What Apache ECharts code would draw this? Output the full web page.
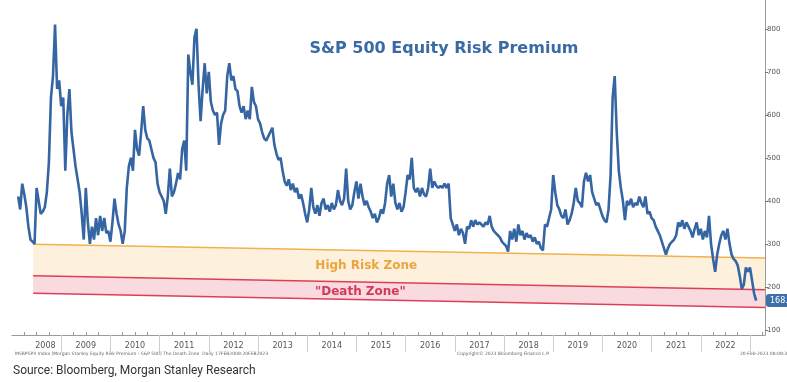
<!DOCTYPE html>
<html><head><meta charset="utf-8">
<script src="https://cdn.jsdelivr.net/npm/echarts@6/dist/echarts.min.js"></script>
<style>html,body{margin:0;padding:0;background:#fff}#c{width:787px;height:382px}</style>
</head><body><div id="c"></div>
<script>
// Semi-monthly readings of the S&P 500 Equity Risk Premium (bp), from mid-Feb 2008
const startYear = 2008.125;
const stepYears = 1 / 24;
const erpValues = [
 410,380,440,415,385,340,310,305,300,430,400,370,375,385,420,490,640,690,810,660,
 680,620,640,470,600,660,560,520,480,450,420,370,310,430,350,300,340,310,360,320,
 365,330,360,325,330,305,350,405,370,345,330,300,330,430,480,500,470,565,520,505,
 560,620,565,545,540,520,500,490,440,420,410,400,370,410,475,410,420,440,465,450,
 520,540,470,740,700,670,780,800,670,585,660,720,650,700,630,610,600,605,530,580,
 600,610,690,720,680,690,660,655,620,605,620,590,610,590,665,630,620,590,580,560,
 545,540,550,560,570,530,510,495,500,470,445,435,450,425,440,420,430,405,415,395,
 370,350,380,430,385,370,390,365,395,405,380,390,375,395,380,390,425,400,390,405,
 475,400,380,390,420,445,405,440,410,390,400,385,375,360,370,350,360,380,370,395,
 440,460,410,440,395,380,395,375,385,420,460,450,500,430,420,430,410,430,415,410,
 430,475,430,445,435,430,435,430,440,430,440,360,345,330,345,320,335,325,300,340,
 335,355,340,355,345,350,345,340,350,345,365,340,330,325,320,315,305,300,295,282,
 330,310,335,305,345,320,330,310,325,315,320,305,315,300,305,290,285,345,340,360,
 380,460,420,390,380,365,360,380,345,355,370,395,430,400,395,385,445,465,445,460,
 420,405,390,395,380,365,355,350,380,460,640,690,560,470,430,400,355,400,390,405,
 385,395,390,410,395,385,410,370,375,360,355,340,330,320,305,290,275,290,300,305,
 310,320,350,340,355,335,350,340,330,315,335,350,320,335,310,330,315,365,300,265,
 235,275,300,320,330,310,335,300,275,265,260,250,225,195,205,245,235,245,215,185,
 168
];
const lastValue = 168.1;
const yearTicks = [2009,2010,2011,2012,2013,2014,2015,2016,2017,2018,2019,2020,2021,2022,2023];
const yearLabelPos = [2008.68,2009.5,2010.5,2011.5,2012.5,2013.5,2014.5,2015.5,2016.5,2017.5,2018.5,2019.5,2020.5,2021.5,2022.5];
const yTickValues = [100,200,300,400,500,600,700,800];
// Zone boundaries (bp) at the start and end of the zone
const zoneX = [2008.43, 2023.305];
const highRiskTop = [299, 267];
const deathTop = [226, 193];
const deathBottom = [185, 152];
const zoneLabelTexts = ['High Risk Zone', '"Death Zone"'];

const quarterTicks = [];
for (let y = 2008; y < 2023.3; y += 0.25) {
  if (Math.abs(y - Math.round(y)) > 0.01) quarterTicks.push(y);
}

const X_MIN = 2008, X_MAX = 2023.305;
const chart = echarts.init(document.getElementById('c'));
chart.setOption({
  animation: false,
  backgroundColor: '#fff',
  title: {
    text: 'S&P 500 Equity Risk Premium',
    left: 439, top: 36, textAlign: 'center',
    textStyle: {fontFamily: 'DejaVu Sans', fontWeight: 'bold', fontSize: 16, color: '#3a6aa3'}
  },
  grid: {left: 12, right: 22, top: 0, bottom: 47, containLabel: false},
  xAxis: [{
    type: 'value', min: X_MIN, max: X_MAX, position: 'bottom',
    axisLine: {show: true, lineStyle: {color: '#9a9a9a', width: 1}},
    axisTick: {show: true, customValues: yearTicks, length: 17, lineStyle: {color: '#cfcfcf'}},
    axisLabel: {customValues: yearLabelPos, formatter: v => String(Math.floor(v)), fontSize: 8,
      color: '#555', fontFamily: 'DejaVu Sans', margin: 7},
    splitLine: {show: false}
  }, {
    type: 'value', min: X_MIN, max: X_MAX, position: 'bottom',
    axisLine: {show: false},
    axisTick: {show: true, inside: true, customValues: quarterTicks, length: 3, lineStyle: {color: '#999'}},
    axisLabel: {show: false},
    splitLine: {show: false}
  }],
  yAxis: {
    type: 'value', position: 'right', min: 88, max: 867,
    axisLine: {show: true, lineStyle: {color: '#9a9a9a'}},
    axisTick: {show: true, customValues: yTickValues, length: 3, lineStyle: {color: '#777'}},
    axisLabel: {customValues: yTickValues, fontSize: 7, color: '#555', fontFamily: 'DejaVu Sans', margin: 2},
    splitLine: {show: false}
  },
  series: [{
    type: 'custom', z: 1, silent: true,
    coordinateSystem: 'cartesian2d',
    data: [[zoneX[0], highRiskTop[0]]],
    renderItem: function (params, api) {
      const p = (x, y) => api.coord([x, y]);
      const o0 = p(zoneX[0], highRiskTop[0]), o1 = p(zoneX[1], highRiskTop[1]);
      const r0 = p(zoneX[0], deathTop[0]), r1 = p(zoneX[1], deathTop[1]);
      const b0 = p(zoneX[0], deathBottom[0]), b1 = p(zoneX[1], deathBottom[1]);
      const t1 = p(2015.2, 249), t2 = p(2015.08, 188);
      const ln = (a, b, c) => ({type: 'line', shape: {x1: a[0], y1: a[1], x2: b[0], y2: b[1]}, style: {stroke: c, lineWidth: 1.5}});
      return {type: 'group', children: [
        {type: 'polygon', shape: {points: [o0, o1, r1, r0]}, style: {fill: '#fdf0dc'}},
        {type: 'polygon', shape: {points: [r0, r1, b1, b0]}, style: {fill: '#f9dade'}},
        ln(o0, o1, '#f0b24c'), ln(r0, r1, '#dc3f58'), ln(b0, b1, '#dc3f58'),
        {type: 'text', x: t1[0], y: t1[1], style: {text: zoneLabelTexts[0], fill: '#eba540',
          font: 'bold 12px "DejaVu Sans"', align: 'center', verticalAlign: 'middle'}},
        {type: 'text', x: t2[0], y: t2[1], style: {text: zoneLabelTexts[1], fill: '#d3395c',
          font: 'bold 12px "DejaVu Sans"', align: 'center', verticalAlign: 'middle'}}
      ]};
    }
  }, {
    type: 'line', z: 3,
    data: erpValues.map((v, i) => [startYear + i * stepYears, v]),
    showSymbol: false, symbol: 'none',
    lineStyle: {color: '#3565a3', width: 2.6},
    markLine: {
      silent: true, symbol: 'none',
      data: [{yAxis: lastValue}],
      lineStyle: {color: 'rgba(0,0,0,0)', width: 0},
      label: {show: true, position: 'end', formatter: () => lastValue.toFixed(1), color: '#fff',
        backgroundColor: '#3d6fa8', padding: [3, 3, 2, 4], borderRadius: 3, fontSize: 8,
        fontFamily: 'DejaVu Sans', distance: 1}
    }
  }],
  graphic: [
    {type: 'text', left: 15, top: 351, style: {text: 'MSRPSPX Index (Morgan Stanley Equity Risk Premium - S&P 500) The Death Zone  Daily 17FEB2008-20FEB2023',
      fill: '#666', font: '4.5px "DejaVu Sans"'}},
    {type: 'text', left: 457, top: 351, style: {text: 'Copyright\u00a9 2023 Bloomberg Finance L.P.', fill: '#666', font: '4.5px "DejaVu Sans"'}},
    {type: 'text', left: 740, top: 351, style: {text: '20-Feb-2023 08:08:31', fill: '#666', font: '4.5px "DejaVu Sans"'}},
    {type: 'text', left: 13, top: 365, style: {text: 'Source: Bloomberg, Morgan Stanley Research', fill: '#333', font: '12px Roboto'}}
  ]
});
</script></body></html>
